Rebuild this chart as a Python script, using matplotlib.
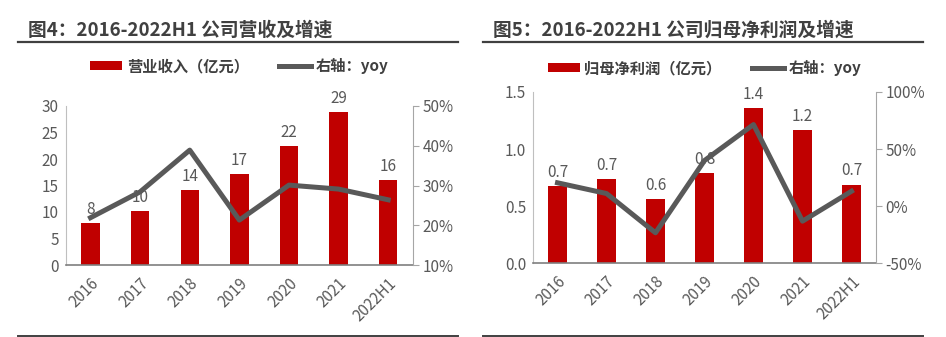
import matplotlib
matplotlib.use("Agg")
import matplotlib.pyplot as plt
from matplotlib.lines import Line2D
from matplotlib.patches import Patch
from matplotlib.ticker import FuncFormatter

plt.rcParams['font.family'] = ['Noto Sans CJK SC', 'DejaVu Sans']

years = ["2016", "2017", "2018", "2019", "2020", "2021", "2022H1"]

# fig 4: revenue (亿元) and yoy
revenue = [7.9, 10.2, 14.2, 17.2, 22.5, 28.9, 16.0]
revenue_labels = ["8", "10", "14", "17", "22", "29", "16"]
revenue_yoy = [0.219, 0.284, 0.389, 0.213, 0.301, 0.291, 0.264]

# fig 5: net profit attributable to parent (亿元) and yoy
profit = [0.68, 0.74, 0.56, 0.79, 1.36, 1.17, 0.69]
profit_labels = ["0.7", "0.7", "0.6", "0.8", "1.4", "1.2", "0.7"]
profit_yoy = [0.205, 0.111, -0.233, 0.40, 0.715, -0.131, 0.131]

RED = "#C00000"
GRAY = "#595959"
W, H = 946, 337

fig = plt.figure(figsize=(W / 100, H / 100), dpi=100)


def px(x0, y0, x1, y1):
    # pixel box (top-left origin) -> figure fraction rect
    return [x0 / W, 1 - y1 / H, (x1 - x0) / W, (y1 - y0) / H]


def panel(rect, vals, labels, yoy, ylim, yticks, y2lim, y2ticks, fmt_left,
          title, tx, line_x, leg_name, leg_y):
    ax = fig.add_axes(rect)
    x = range(len(years))
    ax.bar(x, vals, width=0.37, color=RED, zorder=2)
    span = ylim[1] - ylim[0]
    for i, v in enumerate(vals):
        ax.text(i, v + span * 0.03, labels[i], ha="center", va="bottom",
                fontsize=11, color=GRAY, zorder=1)
    ax.set_xlim(-0.5, len(years) - 0.5)
    ax.set_ylim(*ylim)
    ax.set_yticks(yticks)
    ax.yaxis.set_major_formatter(FuncFormatter(fmt_left))
    ax.set_xticks(list(x))
    ax.set_xticklabels(years, rotation=45, ha="right", rotation_mode="anchor")
    ax.tick_params(axis="both", length=0, labelsize=11, colors=GRAY, pad=5)
    ax.tick_params(axis="x", pad=7)
    for s in ["top", "right"]:
        ax.spines[s].set_visible(False)
    ax.spines["left"].set_color("#bfbfbf")
    ax.spines["bottom"].set_color("#7f7f7f")
    ax.spines["bottom"].set_linewidth(1.2)

    ax2 = ax.twinx()
    ax2.plot(list(x), yoy, color=GRAY, lw=3.6, zorder=3)
    ax2.set_ylim(*y2lim)
    ax2.set_yticks(y2ticks)
    ax2.yaxis.set_major_formatter(FuncFormatter(lambda v, p: f"{v:.0%}"))
    ax2.tick_params(axis="y", length=4, color="#a6a6a6", labelsize=11,
                    colors=GRAY, pad=3)
    for s in ["top", "left", "bottom"]:
        ax2.spines[s].set_visible(False)
    ax2.spines["right"].set_color("#a6a6a6")

    fig.text(tx / W, 1 - 30 / H, title, fontsize=13.5, fontweight="bold",
             color="#404040", va="center", ha="left")
    fig.add_artist(Line2D([line_x[0] / W, line_x[1] / W], [1 - 42 / H] * 2,
                          color="#404040", lw=1.6))
    fig.add_artist(Line2D([line_x[0] / W, line_x[1] / W], [1 - 335.5 / H] * 2,
                          color="#404040", lw=1.4))

    handles = [Patch(facecolor=RED, edgecolor="none", label=leg_name),
               Line2D([], [], color=GRAY, lw=3.6, label="右轴：yoy")]
    cx = (rect[0] + rect[0] + rect[2]) / 2
    leg = fig.legend(handles=handles, loc="center", ncol=2,
                     bbox_to_anchor=(cx, 1 - leg_y / H), frameon=False,
                     handlelength=2.1, handleheight=0.6, columnspacing=2.0,
                     handletextpad=0.3, prop={"size": 11, "weight": "bold"})
    for t in leg.get_texts():
        t.set_color("#404040")
    return ax, ax2


panel(px(65.7, 106, 413, 265), revenue, revenue_labels, revenue_yoy,
      (0, 30), [0, 5, 10, 15, 20, 25, 30], (0.1, 0.5),
      [0.1, 0.2, 0.3, 0.4, 0.5], lambda v, p: f"{v:.0f}",
      "图4：2016-2022H1 公司营收及增速", 28, (18, 458), "营业收入（亿元）", 66)

panel(px(533, 92, 876, 263.3), profit, profit_labels, profit_yoy,
      (0, 1.5), [0, 0.5, 1.0, 1.5], (-0.5, 1.0),
      [-0.5, 0.0, 0.5, 1.0], lambda v, p: f"{v:.1f}",
      "图5：2016-2022H1 公司归母净利润及增速", 493, (483, 923),
      "归母净利润（亿元）", 68)

fig.savefig("out.png", dpi=100)
